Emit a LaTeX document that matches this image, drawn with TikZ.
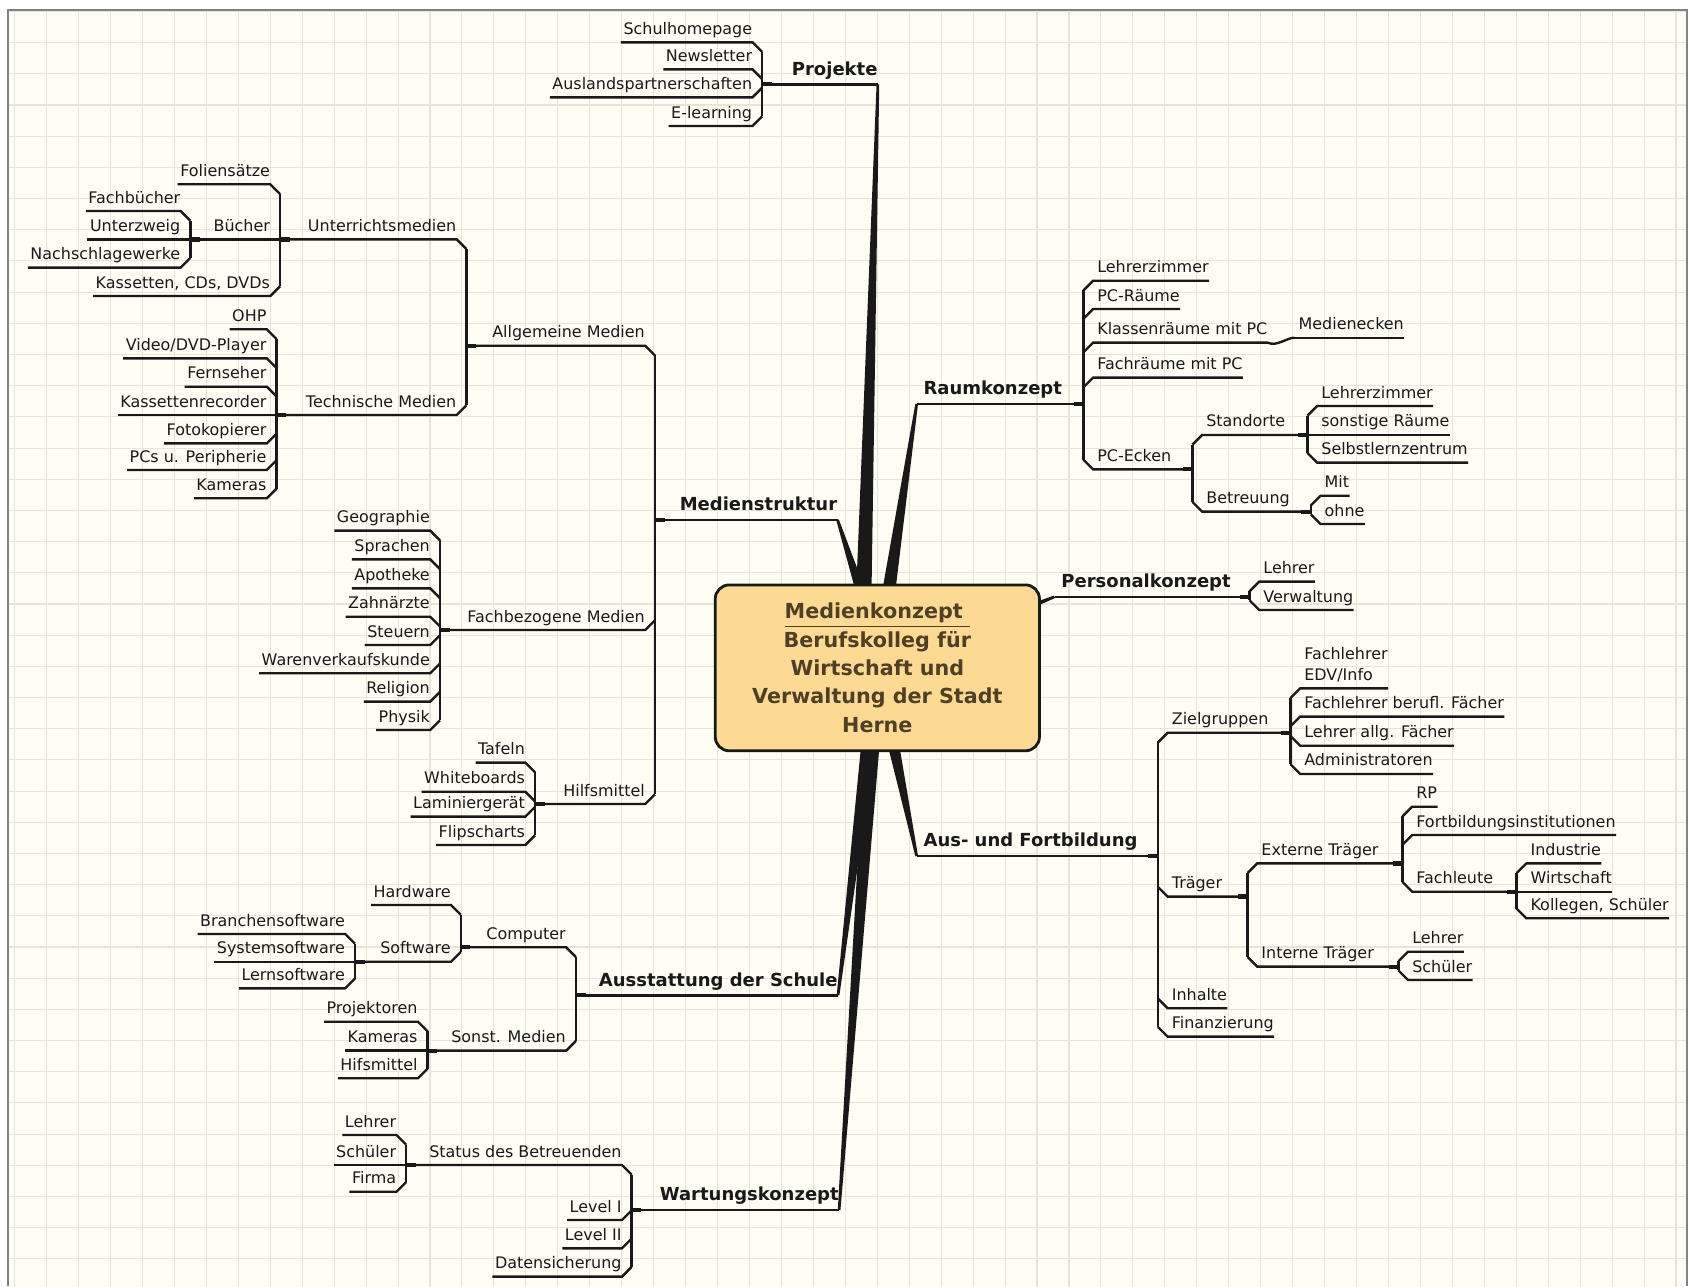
\documentclass[tikz,border=0pt]{standalone}
\usepackage{fontspec}
\setmainfont{DejaVu Sans}
\usetikzlibrary{calc}
\definecolor{bg}{RGB}{253,253,243}
\definecolor{gridc}{RGB}{229,230,217}
\definecolor{framec}{RGB}{130,130,130}
\definecolor{ink}{RGB}{25,25,25}
\definecolor{boxfill}{RGB}{252,218,148}
\definecolor{boxtext}{RGB}{78,64,36}
\tikzset{
  kid/.style={inner xsep=0pt, inner ysep=0pt, text depth=3.5pt, font=\fontsize{7.4}{9.75}\selectfont, text=ink},
  maintopic/.style={inner xsep=0pt, inner ysep=0pt, text depth=4pt, font=\fontsize{8.35}{10}\selectfont\bfseries, text=ink},
  br/.style={draw=ink, line width=1.1pt, line join=miter},
  stub/.style={draw=ink, line width=2pt},
  gridline/.style={draw=gridc, line width=0.5pt},
}
% left-side leaf: name, bar x, underline y, chamfer dy, text
\newcommand\Lleaf[5]{%
  \node[kid,anchor=south east] (#1) at ({#2-9},#3) {\hspace{1pt}#5\hspace{3.5pt}};
  \draw[br] (#1.south west) -- (#1.south east) -- ++(9,#4);}
% left-side parent: ... , x of own children bar
\newcommand\Lpar[6]{%
  \node[kid,anchor=south east] (#1) at ({#2-9},#3) {\hspace{1pt}#5\hspace{3.5pt}};
  \coordinate (#1-j) at (#6,#3);
  \draw[br] (#1-j) -- (#1.south east) -- ++(9,#4);
  \draw[stub] (#1-j) -- ++(9,0);}
\newcommand\Rleaf[5]{%
  \node[kid,anchor=south west] (#1) at ({#2+9},#3) {\hspace{1.75pt}#5\hspace{3.5pt}};
  \draw[br] (#1.south east) -- (#1.south west) -- ++(-9,#4);}
\newcommand\Rpar[6]{%
  \node[kid,anchor=south west] (#1) at ({#2+9},#3) {\hspace{1.75pt}#5\hspace{3.5pt}};
  \coordinate (#1-j) at (#6,#3);
  \draw[br] (#1-j) -- (#1.south west) -- ++(-9,#4);
  \draw[stub] (#1-j) -- ++(-9,0);}
\newcommand\Lbar[2]{\draw[br] ([xshift=4.5pt,yshift=-4.5pt]#1.south east) -- ([xshift=4.5pt,yshift=4.5pt]#2.south east);}
\newcommand\Rbar[2]{\draw[br] ([xshift=-4.5pt,yshift=-4.5pt]#1.south west) -- ([xshift=-4.5pt,yshift=4.5pt]#2.south west);}
\newcommand\Lmain[5]{%
  \node[maintopic,anchor=south east] (#1) at (#2,#3) {#4\hspace{3.5pt}};
  \coordinate (#1-j) at (#5,#3);
  \draw[br] (#1-j) -- (#1.south east);
  \draw[stub] (#1-j) -- ++(9,0);}
\newcommand\Rmain[5]{%
  \node[maintopic,anchor=south west] (#1) at (#2,#3) {\hspace{3pt}#4};
  \coordinate (#1-j) at (#5,#3);
  \draw[br] (#1.south west) -- (#1-j);
  \draw[stub] (#1-j) -- ++(-9,0);}
\newcommand\mmwedge[2]{%
  \fill[ink] ($(#1)!0.62pt!90:(#2)$) -- ($(#2)!4pt!-90:(#1)$) -- ($(#2)!4pt!90:(#1)$) -- ($(#1)!0.62pt!-90:(#2)$) -- cycle;}
\begin{document}
\begin{tikzpicture}[x=0.5pt,y=-0.5pt]
\useasboundingbox (0,0) rectangle (1568,1194);
\fill[white] (0,0) rectangle (1568,1194);
\fill[bg] (7.5,9.3) rectangle (1566,1194);
\begin{scope}
\clip (7.5,9.3) rectangle (1566,1194);
\foreach \i in {0,...,52} \draw[gridline] ({13.6+29.66*\i},0) -- ++(0,1200);
\foreach \j in {0,...,41} \draw[gridline] (0,{10.65+28.95*\j}) -- ++(1570,0);
\end{scope}
\draw[framec, line width=1pt] (7.5,1194) -- (7.5,9.3) -- (1566,9.3) -- (1566,1194);

% ---------------- Projekte
\Lmain{proj}{815}{78.3}{Projekte}{707.6}
\Lleaf{schul}{707.6}{39.3}{9}{Schulhomepage}
\Lleaf{news}{707.6}{64.4}{9}{Newsletter}
\Lleaf{ausl}{707.6}{90.4}{-9}{Auslandspartnerschaften}
\Lleaf{elearn}{707.6}{117}{-9}{E-learning}
\Lbar{schul}{elearn}

% ---------------- Medienstruktur
\Lmain{mstr}{777.6}{482.7}{Medienstruktur}{608}
\Lpar{allg}{608}{321}{9}{Allgemeine Medien}{433}
\Lpar{fachbez}{608}{584.9}{-9}{Fachbezogene Medien}{408.4}
\Lpar{hilf}{608}{746.4}{-9}{Hilfsmittel}{496.7}
\Lbar{allg}{hilf}
\Lpar{unt}{433}{222.2}{9}{Unterrichtsmedien}{260}
\Lpar{tech}{433}{385.3}{-9}{Technische Medien}{256.7}
\Lbar{unt}{tech}
\Lleaf{folien}{260}{171.1}{9}{Foliensätze}
\Lpar{buecher}{260}{222.2}{0}{Bücher}{176.7}
\Lleaf{kass}{260}{274.8}{-9}{Kassetten, CDs, DVDs}
\Lbar{folien}{kass}
\Lleaf{fachb}{176.7}{195.9}{9}{Fachbücher}
\Lleaf{unterz}{176.7}{222.2}{0}{Unterzweig}
\Lleaf{nachs}{176.7}{248.5}{-9}{Nachschlagewerke}
\Lbar{fachb}{nachs}
\Lleaf{ohp}{256.7}{305.7}{9}{OHP}
\Lleaf{video}{256.7}{332.7}{9}{Video/DVD-Player}
\Lleaf{fern}{256.7}{359}{9}{Fernseher}
\Lleaf{kassrec}{256.7}{385.3}{0}{Kassettenrecorder}
\Lleaf{foto}{256.7}{411.6}{-9}{Fotokopierer}
\Lleaf{pcs}{256.7}{436.3}{-9}{PCs u. Peripherie}
\Lleaf{kam}{256.7}{462.6}{-9}{Kameras}
\Lbar{ohp}{kam}
\Lleaf{geo}{408.4}{492.6}{9}{Geographie}
\Lleaf{spr}{408.4}{519.3}{9}{Sprachen}
\Lleaf{apo}{408.4}{546.2}{9}{Apotheke}
\Lleaf{zahn}{408.4}{572.5}{9}{Zahnärzte}
\Lleaf{steu}{408.4}{598.8}{-9}{Steuern}
\Lleaf{waren}{408.4}{625}{-9}{Warenverkaufskunde}
\Lleaf{rel}{408.4}{651.4}{-9}{Religion}
\Lleaf{phys}{408.4}{677.7}{-9}{Physik}
\Lbar{geo}{phys}
\Lleaf{tafeln}{496.7}{708}{9}{Tafeln}
\Lleaf{white}{496.7}{735}{9}{Whiteboards}
\Lleaf{lamin}{496.7}{758.1}{-9}{Laminiergerät}
\Lleaf{flip}{496.7}{784.5}{-9}{Flipscharts}
\Lbar{tafeln}{flip}

% ---------------- Raumkonzept
\Rmain{raum}{851}{375}{Raumkonzept}{1005.8}
\Rleaf{lz}{1005.8}{260.6}{9}{Lehrerzimmer}
\Rleaf{pcr}{1005.8}{286.9}{9}{PC-Räume}
\Rleaf{klass}{1005.8}{318.1}{9}{Klassenräume mit PC}
\Rleaf{fachr}{1005.8}{350.6}{9}{Fachräume mit PC}
\Rpar{pcecken}{1005.8}{435.7}{-9}{PC-Ecken}{1107}
\Rbar{lz}{pcecken}
\node[kid,anchor=south west] (medeck) at (1201.7,313.5) {\hspace{1.75pt}Medienecken\hspace{3.5pt}};
\draw[br] (medeck.south west) -- (medeck.south east);
\draw[br] (klass.south east) .. controls +(8,4) and +(-7,0) .. (medeck.south west);
\Rpar{stand}{1107}{403.8}{9}{Standorte}{1213.8}
\Rpar{betr}{1107}{475}{-9}{Betreuung}{1216.9}
\Rbar{stand}{betr}
\Rleaf{lz2}{1213.8}{376.9}{9}{Lehrerzimmer}
\Rleaf{sonst}{1213.8}{403.8}{0}{sonstige Räume}
\Rleaf{selbst}{1213.8}{429.5}{-9}{Selbstlernzentrum}
\Rbar{lz2}{selbst}
\Rleaf{mit}{1216.9}{460.2}{9}{Mit}
\Rleaf{ohne}{1216.9}{486.5}{-9}{ohne}
\Rbar{mit}{ohne}

% ---------------- Personalkonzept
\Rmain{pers}{979}{554}{Personalkonzept}{1160}
\Rleaf{plehrer}{1160}{540}{9}{Lehrer}
\Rleaf{pverw}{1160}{566.3}{-9}{Verwaltung}
\Rbar{plehrer}{pverw}

% ---------------- Aus- und Fortbildung
\Rmain{aus}{851}{794.7}{Aus- und Fortbildung}{1075}
\Rpar{ziel}{1075}{680.2}{9}{Zielgruppen}{1198}
\Rpar{traeger}{1075}{832.4}{-9}{Träger}{1158.2}
\Rleaf{inhalte}{1075}{936}{-9}{Inhalte}
\Rleaf{finanz}{1075}{962.4}{-9}{Finanzierung}
\Rbar{ziel}{finanz}
\Rleaf{fedv}{1198}{639}{9}{\begin{tabular}[b]{@{}l@{}}Fachlehrer\\EDV/Info\end{tabular}}
\Rleaf{fberuf}{1198}{665.3}{9}{Fachlehrer berufl. Fächer}
\Rleaf{lallg}{1198}{692.3}{-9}{Lehrer allg. Fächer}
\Rleaf{admin}{1198}{718.5}{-9}{Administratoren}
\Rbar{fedv}{admin}
\Rpar{extern}{1158.2}{801.5}{9}{Externe Träger}{1302}
\Rpar{intern}{1158.2}{897.4}{-9}{Interne Träger}{1298.2}
\Rbar{extern}{intern}
\Rleaf{rp}{1302}{748.9}{9}{RP}
\Rleaf{fbi}{1302}{775.2}{9}{Fortbildungsinstitutionen}
\Rpar{fachl}{1302}{827.8}{-9}{Fachleute}{1408}
\Rbar{rp}{fachl}
\Rleaf{indu}{1408}{801.5}{9}{Industrie}
\Rleaf{wirt}{1408}{827.8}{0}{Wirtschaft}
\Rleaf{koll}{1408}{852.5}{-9}{Kollegen, Schüler}
\Rbar{indu}{koll}
\Rleaf{ilehrer}{1298.2}{883.5}{9}{Lehrer}
\Rleaf{ischueler}{1298.2}{909.8}{-9}{Schüler}
\Rbar{ilehrer}{ischueler}

% ---------------- Ausstattung der Schule
\Lmain{ausst}{778}{924}{Ausstattung der Schule}{534.6}
\Lpar{comp}{534.6}{879.4}{9}{Computer}{427.7}
\Lpar{sonstm}{534.6}{975.4}{-9}{Sonst. Medien}{397}
\Lbar{comp}{sonstm}
\Lleaf{hard}{427.7}{840.2}{9}{Hardware}
\Lpar{soft}{427.7}{892.8}{-9}{Software}{329.5}
\Lbar{hard}{soft}
\Lleaf{branch}{329.5}{867.1}{9}{Branchensoftware}
\Lleaf{system}{329.5}{892.8}{0}{Systemsoftware}
\Lleaf{lern}{329.5}{917.5}{-9}{Lernsoftware}
\Lbar{branch}{lern}
\Lleaf{proj2}{397}{948.5}{9}{Projektoren}
\Lleaf{kam2}{397}{975.4}{0}{Kameras}
\Lleaf{hifs}{397}{1001}{-9}{Hifsmittel}
\Lbar{proj2}{hifs}

% ---------------- Wartungskonzept
\Lmain{wart}{779}{1123.3}{Wartungskonzept}{586.4}
\Lpar{status}{586.4}{1081.5}{9}{Status des Betreuenden}{377.1}
\Lleaf{lev1}{586.4}{1132.6}{-9}{Level I}
\Lleaf{lev2}{586.4}{1158.9}{-9}{Level II}
\Lleaf{daten}{586.4}{1185.2}{-9}{Datensicherung}
\Lbar{status}{daten}
\Lleaf{slehrer}{377.1}{1053.7}{9}{Lehrer}
\Lleaf{sschueler}{377.1}{1081.5}{0}{Schüler}
\Lleaf{firma}{377.1}{1106.3}{-9}{Firma}
\Lbar{slehrer}{firma}

% ---------------- central wedges and box
\coordinate (c0) at (814.5,620);
\coordinate (cP) at (800,620);
\coordinate (cM) at (822,620);
\mmwedge{proj.south east}{cP}
\mmwedge{mstr.south east}{cM}
\mmwedge{raum.south west}{c0}
\mmwedge{pers.south west}{c0}
\mmwedge{aus.south west}{c0}
\mmwedge{ausst.south east}{c0}
\mmwedge{wart.south east}{c0}
\node[draw=ink, line width=1.3pt, fill=boxfill, rounded corners=6.5pt,
      minimum width=150.5pt, minimum height=77pt, inner sep=0pt, align=center,
      text=boxtext, font=\fontsize{9.6}{13.15}\selectfont\bfseries] (center) at (814.5,620)
      {\underline{Medienkonzept\ }\\Berufskolleg für\\Wirtschaft und\\Verwaltung der Stadt\\Herne};
\end{tikzpicture}
\end{document}
